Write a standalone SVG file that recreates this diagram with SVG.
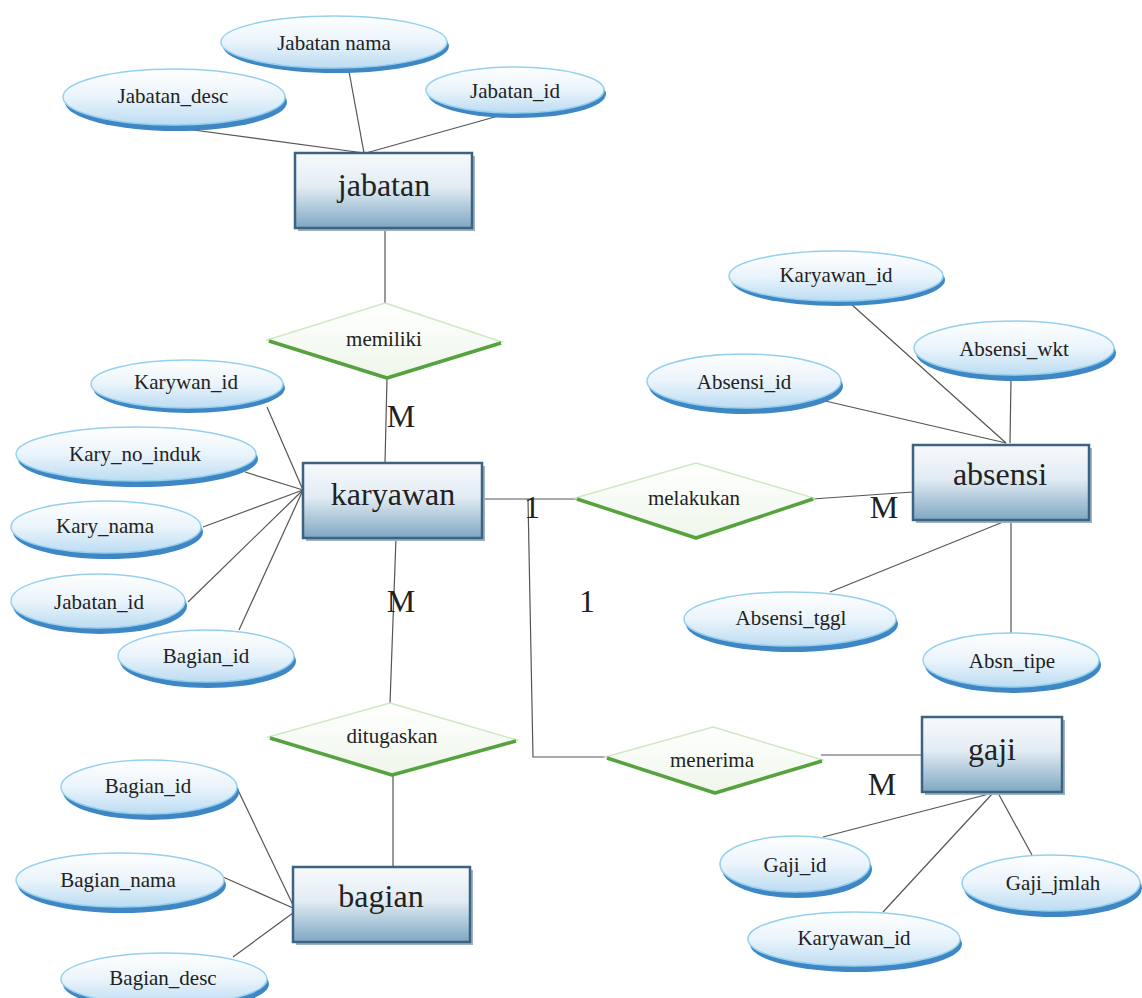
<svg xmlns="http://www.w3.org/2000/svg" width="1142" height="998" viewBox="0 0 1142 998">
<defs>
<linearGradient id="gEll" x1="0" y1="0" x2="0" y2="1">
<stop offset="0" stop-color="#ffffff"/><stop offset="0.5" stop-color="#eaf4fb"/><stop offset="1" stop-color="#bcdcf2"/>
</linearGradient>
<linearGradient id="gRect" x1="0" y1="0" x2="0" y2="1">
<stop offset="0" stop-color="#f7fafc"/><stop offset="0.45" stop-color="#e2ecf3"/><stop offset="1" stop-color="#7ea7c2"/>
</linearGradient>
<linearGradient id="gDia" x1="0" y1="0" x2="0" y2="1">
<stop offset="0" stop-color="#ffffff"/><stop offset="1" stop-color="#eef6ea"/>
</linearGradient>
</defs>
<style>
.ln{stroke:#555;stroke-width:1.2;fill:none}
.esh{fill:#3f87c4}
.ell{fill:url(#gEll);stroke:#95d0ef;stroke-width:1.5}
.rsh{fill:#9db3c4}
.rect{fill:url(#gRect);stroke:#3d6282;stroke-width:2.5}
.dia{fill:url(#gDia);stroke:#cfe8c2;stroke-width:1.5}
.dsh{fill:none;stroke:#55a23e;stroke-width:3.5;stroke-linejoin:round}
.at{font-family:"Liberation Serif","Times New Roman",serif;font-size:21px;fill:#222;text-anchor:middle}
.en{font-family:"Liberation Serif","Times New Roman",serif;font-size:32px;fill:#222;text-anchor:middle}
.cd{font-family:"Liberation Serif","Times New Roman",serif;font-size:32px;fill:#222;text-anchor:middle}
</style>
<g id="connectors">
<line class="ln" x1="348" y1="66" x2="364" y2="153"/>
<line class="ln" x1="171" y1="127" x2="364" y2="153"/>
<line class="ln" x1="509" y1="113" x2="366" y2="153"/>
<line class="ln" x1="385" y1="228" x2="385" y2="303"/>
<line class="ln" x1="387" y1="378" x2="385" y2="463"/>
<line class="ln" x1="267" y1="407" x2="303" y2="490"/>
<line class="ln" x1="245" y1="472" x2="303" y2="490"/>
<line class="ln" x1="203" y1="527" x2="303" y2="490"/>
<line class="ln" x1="188" y1="602" x2="303" y2="490"/>
<line class="ln" x1="239" y1="630" x2="303" y2="490"/>
<line class="ln" x1="396" y1="538" x2="390" y2="703"/>
<line class="ln" x1="393" y1="775" x2="393" y2="867"/>
<line class="ln" x1="237" y1="788" x2="293" y2="905"/>
<line class="ln" x1="223" y1="877" x2="293" y2="908"/>
<line class="ln" x1="233" y1="957" x2="293" y2="913"/>
<line class="ln" x1="482" y1="499" x2="577" y2="499"/>
<polyline class="ln" points="528,499 533,757 607,757"/>
<line class="ln" x1="812" y1="499" x2="913" y2="492"/>
<line class="ln" x1="851" y1="304" x2="1006" y2="443"/>
<line class="ln" x1="1011" y1="378" x2="1010" y2="443"/>
<line class="ln" x1="821" y1="400" x2="1006" y2="443"/>
<line class="ln" x1="830" y1="592" x2="1008" y2="520"/>
<line class="ln" x1="1011" y1="520" x2="1011" y2="634"/>
<line class="ln" x1="821" y1="755" x2="922" y2="755"/>
<line class="ln" x1="823" y1="837" x2="993" y2="793"/>
<line class="ln" x1="1032" y1="855" x2="998" y2="793"/>
<line class="ln" x1="883" y1="912" x2="993" y2="793"/>
</g>
<g id="jabatan_nama"><ellipse class="esh" cx="336" cy="46" rx="113" ry="27"/><ellipse class="ell" cx="334" cy="42" rx="113" ry="26"/><text class="at" x="334" y="50">Jabatan nama</text></g>
<g id="jabatan_desc"><ellipse class="esh" cx="176" cy="102" rx="111" ry="29"/><ellipse class="ell" cx="174" cy="97" rx="111" ry="28"/><text class="at" x="173" y="103">Jabatan_desc</text></g>
<g id="jabatan_id"><ellipse class="esh" cx="517" cy="94" rx="89" ry="24"/><ellipse class="ell" cx="515" cy="90" rx="89" ry="23"/><text class="at" x="515" y="98">Jabatan_id</text></g>
<g id="jabatan"><rect class="rsh" x="298" y="156" width="177" height="75"/><rect class="rect" x="295" y="153" width="177" height="75"/><text class="en" x="384" y="196">jabatan</text></g>
<g id="memiliki"><polygon class="dia" points="385,303 502,342 387,378 267,340"/><polyline class="dsh" points="269,341 387,378 501,343"/><text class="at" x="384" y="346">memiliki</text></g>
<g id="karywan_id"><ellipse class="esh" cx="189" cy="388" rx="96" ry="25"/><ellipse class="ell" cx="187" cy="384" rx="96" ry="24"/><text class="at" x="186" y="389">Karywan_id</text></g>
<g id="kary_no_induk"><ellipse class="esh" cx="138" cy="459" rx="120" ry="28"/><ellipse class="ell" cx="136" cy="454" rx="120" ry="27"/><text class="at" x="135" y="461">Kary_no_induk</text></g>
<g id="kary_nama"><ellipse class="esh" cx="108" cy="532" rx="95" ry="27"/><ellipse class="ell" cx="106" cy="527" rx="95" ry="26"/><text class="at" x="105" y="533">Kary_nama</text></g>
<g id="jabatan_id_k"><ellipse class="esh" cx="100" cy="606" rx="87" ry="28"/><ellipse class="ell" cx="98" cy="601" rx="87" ry="27"/><text class="at" x="99" y="609">Jabatan_id</text></g>
<g id="bagian_id_k"><ellipse class="esh" cx="208" cy="661" rx="88" ry="27"/><ellipse class="ell" cx="206" cy="656" rx="88" ry="26"/><text class="at" x="206" y="663">Bagian_id</text></g>
<g id="karyawan"><rect class="rsh" x="306" y="466" width="179" height="75"/><rect class="rect" x="303" y="463" width="179" height="75"/><text class="en" x="393" y="505">karyawan</text></g>
<g id="ditugaskan"><polygon class="dia" points="390,703 517,740 392,775 268,737"/><polyline class="dsh" points="270,738 392,775 516,741"/><text class="at" x="392" y="743">ditugaskan</text></g>
<g id="bagian"><rect class="rsh" x="296" y="870" width="177" height="75"/><rect class="rect" x="293" y="867" width="177" height="75"/><text class="en" x="381" y="907">bagian</text></g>
<g id="bagian_id_b"><ellipse class="esh" cx="151" cy="792" rx="88" ry="28"/><ellipse class="ell" cx="149" cy="787" rx="88" ry="27"/><text class="at" x="148" y="793">Bagian_id</text></g>
<g id="bagian_nama"><ellipse class="esh" cx="122" cy="885" rx="104" ry="28"/><ellipse class="ell" cx="120" cy="880" rx="104" ry="27"/><text class="at" x="118" y="887">Bagian_nama</text></g>
<g id="bagian_desc"><ellipse class="esh" cx="166" cy="984" rx="103" ry="27"/><ellipse class="ell" cx="164" cy="979" rx="103" ry="26"/><text class="at" x="163" y="985">Bagian_desc</text></g>
<g id="melakukan"><polygon class="dia" points="696,463 814,498 696,538 575,498"/><polyline class="dsh" points="577,499 696,538 813,499"/><text class="at" x="694" y="505">melakukan</text></g>
<g id="absensi"><rect class="rsh" x="916" y="448" width="176" height="75"/><rect class="rect" x="913" y="445" width="176" height="75"/><text class="en" x="1000" y="485">absensi</text></g>
<g id="karyawan_id_a"><ellipse class="esh" cx="838" cy="280" rx="107" ry="26"/><ellipse class="ell" cx="836" cy="276" rx="107" ry="25"/><text class="at" x="836" y="282">Karyawan_id</text></g>
<g id="absensi_wkt"><ellipse class="esh" cx="1016" cy="353" rx="100" ry="28"/><ellipse class="ell" cx="1014" cy="348" rx="100" ry="27"/><text class="at" x="1014" y="356">Absensi_wkt</text></g>
<g id="absensi_id"><ellipse class="esh" cx="746" cy="386" rx="97" ry="28"/><ellipse class="ell" cx="744" cy="381" rx="97" ry="27"/><text class="at" x="744" y="389">Absensi_id</text></g>
<g id="absensi_tggl"><ellipse class="esh" cx="792" cy="624" rx="106" ry="28"/><ellipse class="ell" cx="790" cy="619" rx="106" ry="27"/><text class="at" x="791" y="625">Absensi_tggl</text></g>
<g id="absn_tipe"><ellipse class="esh" cx="1013" cy="665" rx="88" ry="28"/><ellipse class="ell" cx="1011" cy="660" rx="88" ry="27"/><text class="at" x="1012" y="668">Absn_tipe</text></g>
<g id="menerima"><polygon class="dia" points="713,727 823,760 715,793 605,757"/><polyline class="dsh" points="607,758 715,793 822,761"/><text class="at" x="712" y="767">menerima</text></g>
<g id="gaji"><rect class="rsh" x="925" y="720" width="140" height="75"/><rect class="rect" x="922" y="717" width="140" height="75"/><text class="en" x="992" y="760">gaji</text></g>
<g id="gaji_id"><ellipse class="esh" cx="797" cy="869" rx="75" ry="29"/><ellipse class="ell" cx="795" cy="864" rx="75" ry="28"/><text class="at" x="795" y="872">Gaji_id</text></g>
<g id="gaji_jmlah"><ellipse class="esh" cx="1053" cy="888" rx="89" ry="29"/><ellipse class="ell" cx="1051" cy="883" rx="89" ry="28"/><text class="at" x="1053" y="890">Gaji_jmlah</text></g>
<g id="karyawan_id_g"><ellipse class="esh" cx="856" cy="944" rx="106" ry="28"/><ellipse class="ell" cx="854" cy="939" rx="106" ry="27"/><text class="at" x="854" y="945">Karyawan_id</text></g>
<g id="labels">
<text class="cd" x="401" y="427">M</text>
<text class="cd" x="401" y="612">M</text>
<text class="cd" x="532" y="518">1</text>
<text class="cd" x="587" y="612">1</text>
<text class="cd" x="884" y="518">M</text>
<text class="cd" x="882" y="795">M</text>
</g>
</svg>
